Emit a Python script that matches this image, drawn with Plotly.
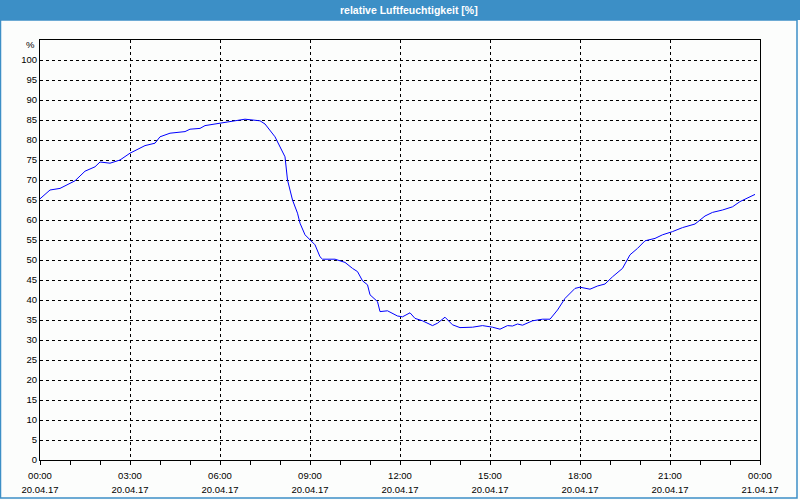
import plotly.graph_objects as go
from datetime import datetime, timedelta

DAY = "2017-04-20"
times = ["00:00", "00:20", "00:40", "01:10", "01:30", "01:50", "02:00", "02:20", "02:40", "03:00",
         "03:30", "03:50", "04:00", "04:20", "04:50", "05:00", "05:20", "05:30", "06:00", "06:30",
         "06:50", "07:20", "07:30", "07:50", "08:10", "08:15", "08:25", "08:35", "08:40", "08:50",
         "09:00", "09:10", "09:20", "09:25", "09:50", "10:10", "10:25", "10:35", "10:45", "10:55",
         "11:00", "11:15", "11:20", "11:35", "11:55", "12:05", "12:20", "12:30", "12:45", "13:05",
         "13:15", "13:30", "13:45", "14:00", "14:25", "14:45", "15:05", "15:20", "15:35", "15:45",
         "15:55", "16:05", "16:25", "16:45", "17:00", "17:15", "17:30", "17:50", "18:00", "18:20",
         "18:35", "18:50", "19:05", "19:25", "19:40", "19:55", "20:10", "20:30", "20:45", "21:05",
         "21:25", "21:50", "22:10", "22:25", "22:45", "23:05", "23:20", "23:50"]
humidity = [65.3, 67.5, 67.9, 69.8, 72.2, 73.3, 74.5, 74.2, 75.0, 76.7,
            78.6, 79.2, 80.8, 81.7, 82.1, 82.7, 82.9, 83.6, 84.2, 84.8,
            85.2, 84.8, 84.0, 80.8, 75.8, 70.0, 65.0, 61.7, 59.2, 56.3,
            55.0, 53.8, 50.8, 50.2, 50.2, 49.4, 47.9, 47.1, 44.8, 43.8,
            41.3, 39.6, 37.1, 37.3, 36.0, 35.8, 36.8, 35.4, 34.8, 33.6,
            34.2, 35.7, 33.8, 33.1, 33.2, 33.6, 33.2, 32.7, 33.6, 33.5,
            34.0, 33.7, 34.8, 35.2, 35.2, 37.5, 40.4, 42.9, 43.2, 42.7,
            43.5, 44.0, 45.8, 47.9, 51.3, 52.9, 54.8, 55.4, 56.3, 57.1,
            58.1, 59.0, 61.0, 61.9, 62.5, 63.3, 64.6, 66.4]
tick_hours = [0, 3, 6, 9, 12, 15, 18, 21, 24]
y_ticks = list(range(0, 101, 5))
title_text = "relative Luftfeuchtigkeit [%]"
unit_label = "%"

base = datetime.strptime(DAY, "%Y-%m-%d")
x = [datetime.strptime(DAY + " " + t, "%Y-%m-%d %H:%M") for t in times]
tickvals = [base + timedelta(hours=h) for h in tick_hours]
time_text = [tv.strftime("%H:%M") for tv in tickvals]
date_text = [tv.strftime("%d.%m.%y") for tv in tickvals]
xrange_ = [base, base + timedelta(hours=24)]

FONT = "Liberation Sans"
TF = dict(family=FONT, size=9.5, color="#000000")
fig = go.Figure()
fig.add_trace(go.Scatter(x=x, y=humidity, mode="lines",
                         line=dict(color="#0000ff", width=1), hoverinfo="skip"))
# carrier trace so the date-label axis is rendered (draws nothing)
fig.add_trace(go.Scatter(x=xrange_, y=[None, None], xaxis="x2", mode="lines",
                         line=dict(width=0), hoverinfo="skip"))

W, H = 800, 500
L, R, T, B = 40, 40, 40, 40
pw, ph = W - L - R, H - T - B
def px(xp):
    return (xp - L) / pw
def py(yp):
    return (H - B - yp) / ph

fig.update_layout(
    width=W, height=H,
    margin=dict(l=L, r=R, t=T, b=B, autoexpand=False),
    paper_bgcolor="#fcfdfc", plot_bgcolor="rgba(0,0,0,0)",
    showlegend=False,
    font=TF,
    xaxis=dict(type="date", range=xrange_, automargin=False,
               tickvals=tickvals, ticktext=time_text,
               ticks="outside", ticklen=4, tickcolor="#000", ticklabelstandoff=3,
               minor=dict(dtick=3600000, tick0=base, ticks="outside", ticklen=4, tickcolor="#000", showgrid=False),
               showgrid=True, gridcolor="#000", griddash="3px,3px", gridwidth=1,
               showline=True, mirror=True, linecolor="#000", linewidth=1,
               zeroline=False, tickfont=TF),
    xaxis2=dict(type="date", range=xrange_, overlaying="x", anchor="y", side="bottom", automargin=False,
                tickvals=tickvals, ticktext=date_text, ticks="", ticklabelstandoff=22,
                showgrid=False, showline=False, zeroline=False, tickfont=TF),
    yaxis=dict(range=[0, 105], tickvals=y_ticks, ticktext=[str(v) for v in y_ticks], automargin=False,
               ticks="", showgrid=True, gridcolor="#000", griddash="3px,3px", gridwidth=1,
               showline=True, mirror=True, linecolor="#000", linewidth=1,
               zeroline=False, tickfont=TF),
    shapes=[
        dict(type="rect", xref="paper", yref="paper", x0=px(0), x1=px(800), y0=py(20), y1=py(0),
             fillcolor="#3c8fc6", line=dict(width=0), layer="above"),
        dict(type="rect", xref="paper", yref="paper", x0=px(0.5), x1=px(797), y0=py(498), y1=py(20),
             fillcolor="rgba(0,0,0,0)", line=dict(color="#3c8fc6", width=1.5), layer="above"),
    ],
    annotations=[
        dict(text="<b>" + title_text + "</b>", xref="paper", yref="paper", x=px(409), y=py(10),
             xanchor="center", yanchor="middle", showarrow=False,
             font=dict(family=FONT, size=10.5, color="#ffffff")),
        dict(text=unit_label, xref="paper", yref="paper", x=px(37), y=py(45),
             xanchor="right", yanchor="middle", showarrow=False, font=TF),
    ],
)
fig.write_html("out.html")
